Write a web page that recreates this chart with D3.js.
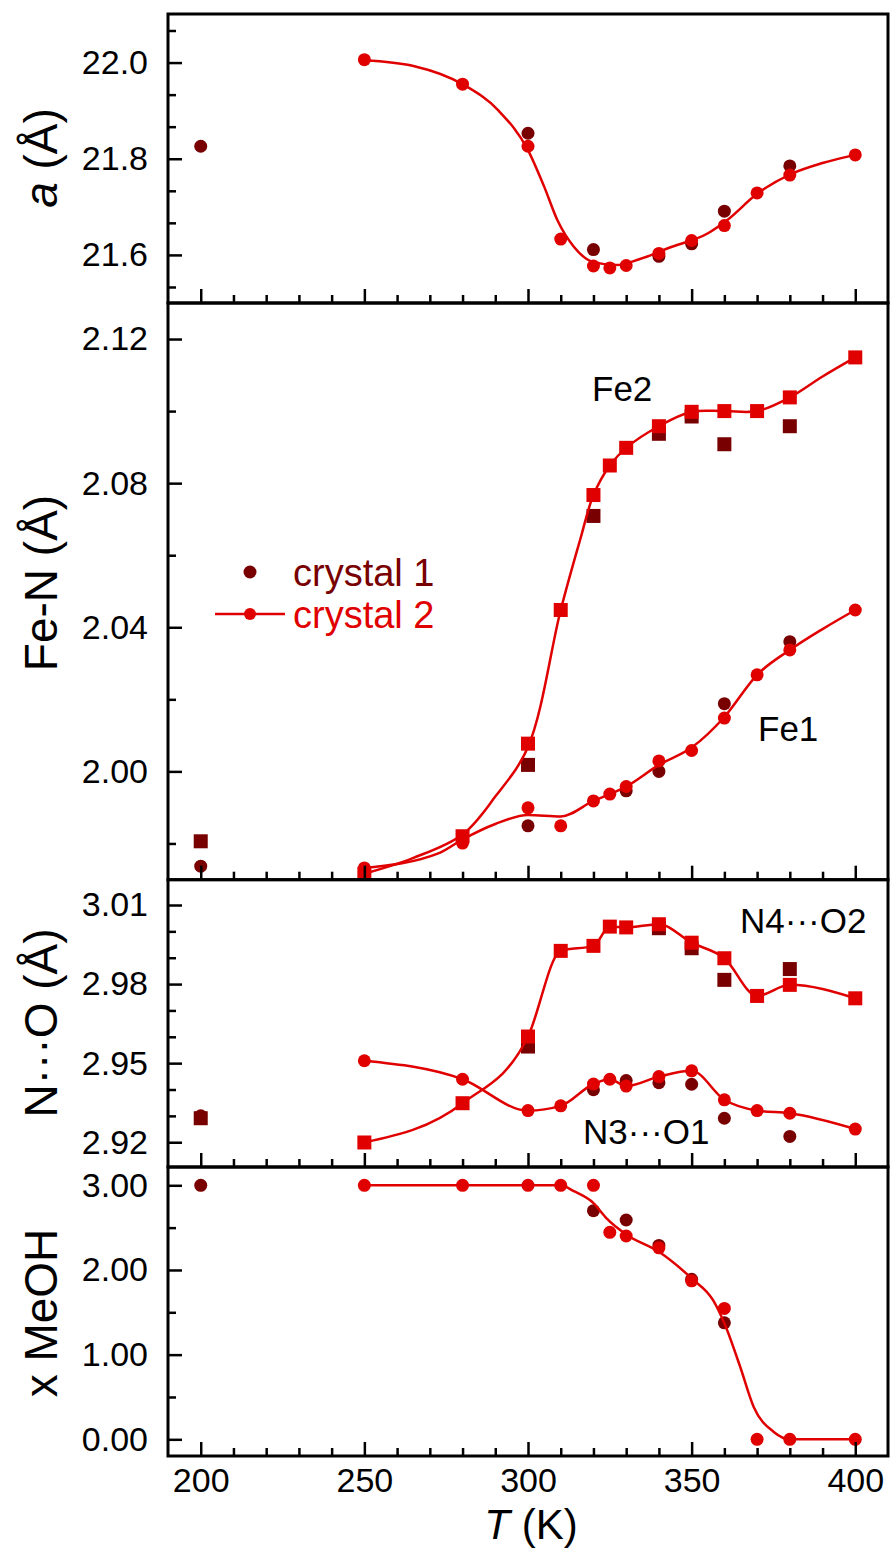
<!DOCTYPE html>
<html><head><meta charset="utf-8">
<script src="https://cdn.jsdelivr.net/npm/d3@7/dist/d3.min.js"></script>
<style>body{margin:0;background:#fff}svg{display:block}</style>
</head><body>
<script>
// ---------- x axis ----------
const xMajor = [200, 250, 300, 350, 400];
const xMinor = [210,220,230,240,260,270,280,290,310,320,330,340,360,370,380,390];

// ---------- panel 1 : a (Å) ----------
const aT1 = [200, 300, 320, 340, 350, 360, 380];
const aV1 = [21.826, 21.853, 21.611, 21.597, 21.623, 21.691, 21.785];
const aT2 = [250, 280, 300, 310, 320, 325, 330, 340, 350, 360, 370, 380, 400];
const aV2 = [22.006, 21.955, 21.826, 21.633, 21.577, 21.573, 21.578, 21.603, 21.630, 21.661, 21.729, 21.766, 21.808];
const aFitT = [250, 265, 280, 291, 300, 305, 309, 314, 320, 327, 334, 344, 355, 361, 370, 380, 390, 400];
const aFitV = [22.005, 21.993, 21.955, 21.900, 21.818, 21.741, 21.672, 21.617, 21.585, 21.579, 21.591, 21.617, 21.645, 21.673, 21.727, 21.767, 21.791, 21.808];
const aMajor = [21.6, 21.8, 22.0];
const aMinor = [21.5333, 21.6667, 21.7333, 21.8667, 21.9333, 22.0667];

// ---------- panel 2 : Fe-N (Å) ----------
const fe2T1 = [200, 300, 320, 340, 350, 360, 380];
const fe2V1 = [1.9806, 2.0018, 2.0709, 2.0937, 2.0985, 2.0908, 2.0958];
const fe2T2 = [250, 280, 300, 310, 320, 325, 330, 340, 350, 360, 370, 380, 400];
const fe2V2 = [1.9716, 1.9820, 2.0077, 2.0448, 2.0767, 2.0849, 2.0898, 2.0958, 2.0998, 2.1000, 2.1000, 2.1038, 2.1149];
const fe2FitT = [250, 265, 280, 290, 300, 310, 316, 320, 325, 330, 340, 350, 360, 370, 380, 390, 400];
const fe2FitV = [1.9716, 1.9760, 1.9825, 1.9930, 2.0068, 2.0448, 2.0645, 2.0767, 2.0849, 2.0898, 2.0958, 2.0998, 2.1000, 2.1000, 2.1038, 2.1096, 2.1149];
const fe1T1 = [200, 300, 330, 340, 360, 380];
const fe1V1 = [1.9737, 1.9849, 1.9946, 2.0000, 2.0188, 2.0360];
const fe1T2 = [250, 280, 300, 310, 320, 325, 330, 340, 350, 360, 370, 380, 400];
const fe1V2 = [1.9732, 1.9801, 1.9899, 1.9849, 1.9918, 1.9937, 1.9958, 2.0029, 2.0058, 2.0148, 2.0268, 2.0337, 2.0448];
const fe1FitT = [250, 273, 280, 290, 300, 310, 320, 325, 330, 340, 350, 360, 370, 380, 390, 400];
const fe1FitV = [1.9732, 1.9774, 1.9811, 1.9854, 1.9879, 1.9875, 1.9918, 1.9937, 1.9958, 2.0018, 2.0066, 2.0151, 2.0268, 2.0337, 2.0395, 2.0448];
const feMajor = [2.00, 2.04, 2.08, 2.12];
const feMinor = [1.98, 2.02, 2.06, 2.10];

// ---------- panel 3 : N···O (Å) ----------
const n4T1 = [200, 300, 340, 350, 360, 380];
const n4V1 = [2.9291, 2.9563, 3.0012, 2.9936, 2.9816, 2.9857];
const n4T2 = [250, 280, 300, 310, 320, 325, 330, 340, 350, 360, 370, 380, 400];
const n4V2 = [2.9199, 2.9348, 2.9601, 2.9926, 2.9945, 3.0018, 3.0015, 3.0027, 2.9957, 2.9898, 2.9755, 2.9797, 2.9746];
const n3T1 = [200, 320, 330, 340, 350, 360, 380];
const n3V1 = [2.9300, 2.9399, 2.9434, 2.9426, 2.9420, 2.9291, 2.9222];
const n3T2 = [250, 280, 300, 310, 320, 325, 330, 340, 350, 360, 370, 380, 400];
const n3V2 = [2.9509, 2.9439, 2.9320, 2.9338, 2.9421, 2.9439, 2.9413, 2.9449, 2.9471, 2.9361, 2.9320, 2.9310, 2.9250];
const noMajor = [2.92, 2.95, 2.98, 3.01];
const noMinor = [2.93, 2.94, 2.96, 2.97, 2.99, 3.00];

// ---------- panel 4 : x MeOH ----------
const mT1 = [200, 320, 330, 340, 350, 360];
const mV1 = [3.00, 2.70, 2.59, 2.29, 1.889, 1.376];
const mT2 = [250, 280, 300, 310, 320, 325, 330, 340, 350, 360, 370, 380, 400];
const mV2 = [3.00, 3.00, 3.00, 3.00, 3.00, 2.444, 2.401, 2.262, 1.872, 1.546, 0, 0, 0];
const mFitT = [250, 280, 300, 310, 314, 320, 324, 330, 340, 350, 356.6, 360, 364.8, 369, 375, 380, 400];
const mFitV = [3, 3, 3, 3, 2.93, 2.79, 2.61, 2.42, 2.215, 1.90, 1.64, 1.37, 0.86, 0.38, 0.09, 0, 0];
const mMajor = [0, 1, 2, 3];
const mMinor = [0.5, 1.5, 2.5];

// ---------- styling ----------
const DARK = "#780000", RED = "#e00000";
const FONT = "'Liberation Sans', Arial, Helvetica, sans-serif";
const R = 6.5, SQ = 14;

const svg = d3.select("body").append("svg").attr("width", 891).attr("height", 1549)
  .style("font-family", FONT);

const x = d3.scaleLinear().domain([190, 410]).range([168, 888]);
const zip = (a, b) => a.map((t, i) => [t, b[i]]);
const MONO = d3.curveMonotoneX, CR = d3.curveCatmullRom.alpha(0.5);

const panels = [
  { top: 14, bottom: 303, domain: [21.5, 22.101], major: aMajor, minor: aMinor, fmt: d3.format(".1f"), cy: 158,
    dark: [{ t: aT1, v: aV1, shape: "c" }],
    fits: [{ t: aFitT, v: aFitV, c: MONO }],
    bright: [{ t: aT2, v: aV2, shape: "c" }] },
  { top: 303, bottom: 879.7, domain: [1.96994, 2.13], major: feMajor, minor: feMinor, fmt: d3.format(".2f"), cy: 583,
    dark: [{ t: fe2T1, v: fe2V1, shape: "s" }, { t: fe1T1, v: fe1V1, shape: "c" }],
    fits: [{ t: fe2FitT, v: fe2FitV, c: CR }, { t: fe1FitT, v: fe1FitV, c: MONO }],
    bright: [{ t: fe2T2, v: fe2V2, shape: "s" }, { t: fe1T2, v: fe1V2, shape: "c" }] },
  { top: 879.7, bottom: 1167, domain: [2.9106, 3.0196], major: noMajor, minor: noMinor, fmt: d3.format(".2f"), cy: 1023,
    dark: [{ t: n4T1, v: n4V1, shape: "s" }, { t: n3T1, v: n3V1, shape: "c" }],
    fits: [{ t: n4T2, v: n4V2, c: MONO }, { t: n3T2, v: n3V2, c: MONO }],
    bright: [{ t: n4T2, v: n4V2, shape: "s" }, { t: n3T2, v: n3V2, shape: "c" }] },
  { top: 1167, bottom: 1456, domain: [-0.197, 3.216], major: mMajor, minor: mMinor, fmt: d3.format(".2f"), cy: 1313,
    dark: [{ t: mT1, v: mV1, shape: "c" }],
    fits: [{ t: mFitT, v: mFitV, c: MONO }],
    bright: [{ t: mT2, v: mV2, shape: "c" }] }
];

const yTitles = [
  [{ t: "a", i: true }, { t: " (Å)" }],
  [{ t: "Fe-N (Å)" }],
  [{ t: "N···O (Å)" }],
  [{ t: "x MeOH" }]
];

function drawMarks(g, y, set, color) {
  const pts = zip(set.t, set.v);
  if (set.shape === "c") {
    g.selectAll(null).data(pts).enter().append("circle")
      .attr("cx", d => x(d[0])).attr("cy", d => y(d[1])).attr("r", R).attr("fill", color);
  } else {
    g.selectAll(null).data(pts).enter().append("rect")
      .attr("x", d => x(d[0]) - SQ / 2).attr("y", d => y(d[1]) - SQ / 2)
      .attr("width", SQ).attr("height", SQ).attr("fill", color);
  }
}

panels.forEach((p, idx) => {
  const y = d3.scaleLinear().domain(p.domain).range([p.bottom, p.top]);
  const g = svg.append("g");

  p.dark.forEach(s => drawMarks(g, y, s, DARK));
  p.fits.forEach(f => {
    const line = d3.line().x(d => x(d[0])).y(d => y(d[1])).curve(f.c);
    g.append("path").attr("d", line(zip(f.t, f.v)))
      .attr("fill", "none").attr("stroke", RED).attr("stroke-width", 2.5);
  });
  p.bright.forEach(s => drawMarks(g, y, s, RED));

  const ly = g.append("g").attr("transform", "translate(168,0)")
    .call(d3.axisLeft(y).tickValues(p.major).tickSize(-14).tickPadding(20).tickFormat(p.fmt));
  const lym = g.append("g").attr("transform", "translate(168,0)")
    .call(d3.axisLeft(y).tickValues(p.minor).tickSize(-8).tickFormat(""));
  const last = idx === panels.length - 1;
  const bx = g.append("g").attr("transform", `translate(0,${p.bottom})`)
    .call(d3.axisBottom(x).tickValues(xMajor).tickSize(-14).tickPadding(12)
      .tickFormat(last ? d3.format("d") : ""));
  const bxm = g.append("g").attr("transform", `translate(0,${p.bottom})`)
    .call(d3.axisBottom(x).tickValues(xMinor).tickSize(-8).tickFormat(""));
  [ly, lym, bx, bxm].forEach(a => {
    a.select(".domain").remove();
    a.selectAll("line").attr("stroke", "#000").attr("stroke-width", 2.5);
    a.selectAll("text").attr("font-size", 34).attr("font-family", FONT).attr("fill", "#000");
  });

  g.append("rect").attr("x", 168).attr("y", p.top).attr("width", 720).attr("height", p.bottom - p.top)
    .attr("fill", "none").attr("stroke", "#000").attr("stroke-width", 3);

  const tt = svg.append("text").attr("transform", `translate(57,${p.cy}) rotate(-90)`)
    .attr("text-anchor", "middle").attr("font-size", 46).attr("fill", "#000");
  yTitles[idx].forEach(part => tt.append("tspan").text(part.t).attr("font-style", part.i ? "italic" : null));
});

// x title
const xt = svg.append("text").attr("x", 531).attr("y", 1539).attr("text-anchor", "middle")
  .attr("font-size", 42).attr("fill", "#000");
xt.append("tspan").text("T").attr("font-style", "italic");
xt.append("tspan").text(" (K)");

// annotations
const notes = [
  { t: "Fe2", x: 592, y: 401 },
  { t: "Fe1", x: 758, y: 741 },
  { t: "N4···O2", x: 740, y: 933 },
  { t: "N3···O1", x: 583, y: 1144 }
];
svg.selectAll(null).data(notes).enter().append("text")
  .attr("x", d => d.x).attr("y", d => d.y).attr("font-size", 35).attr("fill", "#000").text(d => d.t);

// legend
const legend = svg.append("g");
legend.append("circle").attr("cx", 250).attr("cy", 572).attr("r", R).attr("fill", DARK);
legend.append("text").attr("x", 293).attr("y", 586).attr("font-size", 38).attr("fill", DARK).text("crystal 1");
legend.append("line").attr("x1", 215).attr("x2", 285).attr("y1", 614).attr("y2", 614)
  .attr("stroke", RED).attr("stroke-width", 2.5);
legend.append("circle").attr("cx", 250).attr("cy", 614).attr("r", 6).attr("fill", RED);
legend.append("text").attr("x", 293).attr("y", 628).attr("font-size", 38).attr("fill", RED).text("crystal 2");
</script>
</body></html>
